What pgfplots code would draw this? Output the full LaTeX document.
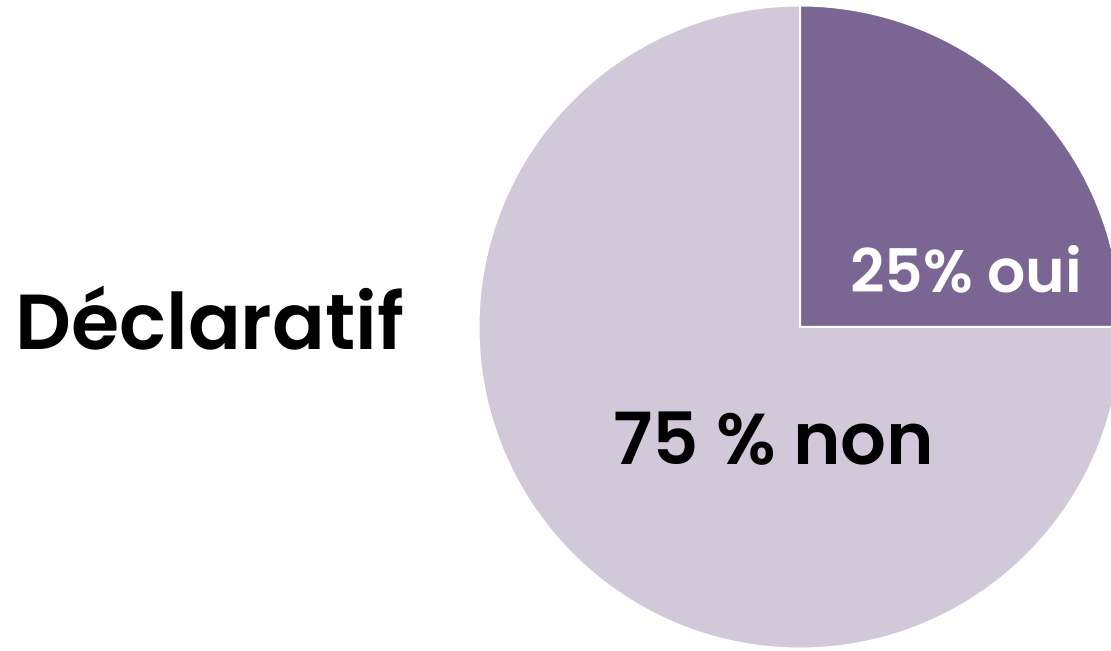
\documentclass[border=0pt]{standalone}
\usepackage{fontspec}
\setmainfont{Poppins}[BoldFont={Poppins SemiBold}]
\usepackage{pgfplots}
\usepackage{pgfplotstable}
\pgfplotsset{compat=1.18}
\definecolor{ouicol}{HTML}{7B6593}
\definecolor{noncol}{HTML}{D1C8DA}
\pgfplotstableread{
label value
oui 25
non 75
}\pietable
\pgfplotstablegetelem{0}{value}\of\pietable \global\let\ouival\pgfplotsretval
\pgfplotstablegetelem{1}{value}\of\pietable \global\let\nonval\pgfplotsretval
\pgfmathsetmacro{\ouiend}{90-3.6*\ouival}
\pgfmathsetmacro{\nonend}{\ouiend-3.6*\nonval}
\begin{document}
\begin{tikzpicture}
\begin{axis}[
  width=555.5pt, height=325.5pt, scale only axis,
  xmin=0, xmax=1111, ymin=0, ymax=651,
  hide axis, clip=true,
]
\fill[noncol, draw=white, line width=1pt] (axis cs:800,324) -- ++(\ouiend:160.75pt) arc[start angle=\ouiend, end angle=\nonend, radius=160.75pt] -- cycle;
\fill[ouicol, draw=white, line width=1pt] (axis cs:800,324) -- ++(90:160.75pt) arc[start angle=90, end angle=\ouiend, radius=160.75pt] -- cycle;
\node[anchor=base west, inner sep=0pt, font=\fontsize{39}{46}\selectfont\bfseries] at (axis cs:15,301) {Déclaratif};
\node[anchor=base west, inner sep=0pt, text=white, font=\fontsize{30}{36}\selectfont\bfseries] at (axis cs:850,358) {\ouival\% oui};
\node[anchor=base west, inner sep=0pt, font=\fontsize{36}{42}\selectfont\bfseries] at (axis cs:613,186) {\nonval{} \% non};
\end{axis}
\pgfresetboundingbox
\useasboundingbox (0,0) rectangle (555.5pt,325.5pt);
\end{tikzpicture}
\end{document}
